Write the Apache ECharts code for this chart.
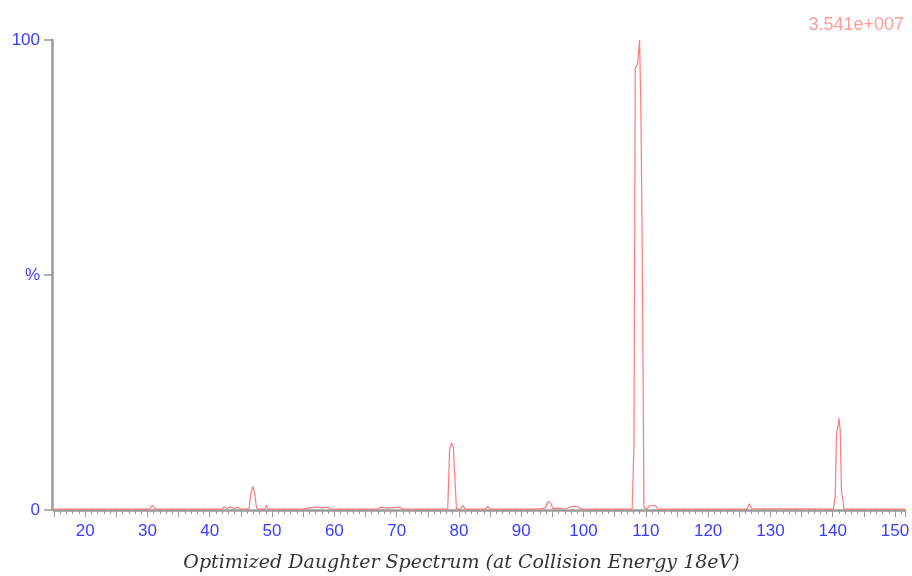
<!DOCTYPE html>
<html>
<head>
<meta charset="utf-8">
<script src="https://cdn.jsdelivr.net/npm/echarts@6/dist/echarts.min.js"></script>
<style>
  html, body { margin: 0; padding: 0; background: #fff; }
  #chart { width: 912px; height: 576px; }
</style>
</head>
<body>
<div id="chart"></div>
<script>
// m/z positions of the profile points
const mz = [
  14.5, 30.3, 30.8, 31.3, 42.0, 42.3, 42.8, 43.3, 43.8, 44.5, 45.0,
  46.3, 46.6, 46.9, 47.2, 47.5, 47.9, 48.9, 49.1, 49.4,
  55.0, 55.3, 56.2, 57.0, 58.0, 59.0, 59.4,
  67.0, 67.4, 68.5, 69.5, 70.5, 71.0,
  78.2, 78.5, 78.8, 79.1, 79.3, 79.6, 80.3, 80.6, 81.0, 84.3, 84.6, 85.0,
  92.3, 92.6, 93.2, 93.9, 94.3, 94.7, 95.1, 96.0, 97.0, 98.0, 98.8, 99.5, 100.0,
  107.8, 108.1, 108.3, 108.7, 109.0, 109.2, 109.4, 109.7, 110.2, 110.5, 111.5, 112.0,
  122.7, 123.0, 123.3, 126.2, 126.6, 127.0,
  140.1, 140.4, 140.6, 140.8, 141.0, 141.2, 141.4, 141.6, 141.8, 151.6
];
// relative intensity (%)
const intensity = [
  0.2, 0.2, 1.0, 0.2, 0.2, 0.7, 0.3, 0.7, 0.3, 0.6, 0.2,
  0.3, 3.5, 5.0, 3.8, 0.5, 0.2, 0.2, 1.0, 0.2,
  0.2, 0.6, 0.5, 0.6, 0.5, 0.6, 0.2,
  0.2, 0.6, 0.4, 0.5, 0.6, 0.2,
  0.2, 13.0, 14.2, 13.5, 8.0, 0.3, 0.2, 1.0, 0.2, 0.2, 0.8, 0.2,
  0.2, 0.6, 0.3, 0.5, 1.8, 1.5, 0.3, 0.4, 0.2, 0.7, 0.8, 0.3, 0.2,
  0.2, 14.0, 94, 95, 100, 85, 60, 0.5, 0.2, 0.9, 0.9, 0.2,
  0.2, 0.6, 0.2, 0.2, 1.3, 0.3,
  0.2, 3, 16, 17.5, 19.5, 17, 4, 2.5, 0.2, 0.2
];
const yLabels = { 0: '0', 50: '%', 100: '100' };
const xLabelStep = 10;
const baseIntensity = '3.541e+007';
const caption = 'Optimized Daughter Spectrum (at Collision Energy 18eV)';

const chart = echarts.init(document.getElementById('chart'));

const axisBlue = '#3c3cff';
const axisGray = '#9a9a9a';

chart.setOption({
  animation: false,
  grid: { left: 54, right: 7, top: 40, bottom: 66, outerBoundsMode: 'none', containLabel: false },
  title: {
    text: baseIntensity,
    right: 3,
    top: 11,
    textStyle: { color: '#ff9c9c', fontSize: 18, fontWeight: 'normal', fontFamily: 'Liberation Sans' }
  },
  xAxis: {
    type: 'value',
    min: 15,
    max: 151.6,
    interval: 5,
    name: caption,
    nameLocation: 'middle',
    nameGap: 44,
    nameTextStyle: {
      color: '#333', fontSize: 19, fontStyle: 'italic', fontFamily: 'DejaVu Serif',
      padding: [0, 36, 0, 0]
    },
    axisLine: { lineStyle: { color: axisGray, width: 2.5 } },
    axisTick: { length: 7, lineStyle: { color: axisGray } },
    minorTick: { show: true, splitNumber: 5, length: 4, lineStyle: { color: axisGray } },
    splitLine: { show: false },
    axisLabel: {
      color: axisBlue,
      fontSize: 17,
      fontFamily: 'Liberation Sans',
      margin: 13,
      formatter: v => (v % xLabelStep === 0 && v >= 20 && v <= 150) ? String(v) : ''
    }
  },
  yAxis: {
    type: 'value',
    min: 0,
    max: 100,
    interval: 50,
    offset: 2,
    axisLine: { show: true, lineStyle: { color: axisGray, width: 2.5 } },
    axisTick: { show: true, length: 8, lineStyle: { color: axisGray, width: 1.5 } },
    splitLine: { show: false },
    axisLabel: {
      color: axisBlue,
      fontSize: 17,
      fontFamily: 'Liberation Sans',
      margin: 12,
      formatter: v => yLabels[v] || ''
    }
  },
  series: [{
    type: 'line',
    data: mz.map((x, i) => [x, intensity[i]]),
    showSymbol: false,
    lineStyle: { color: '#ff7b7b', width: 1.2 },
    z: 3
  }]
});
</script>
</body>
</html>
